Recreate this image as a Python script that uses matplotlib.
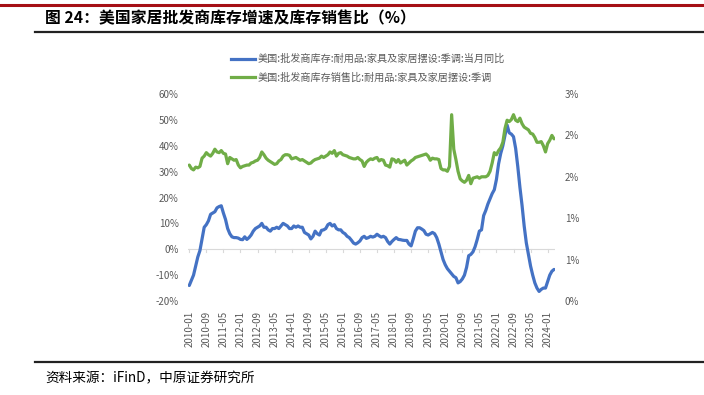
import matplotlib
matplotlib.use("Agg")
import matplotlib.pyplot as plt
import matplotlib.lines as mlines
import pandas as pd
import numpy as np
from matplotlib.ticker import FuncFormatter, MultipleLocator

plt.rcParams['font.family'] = ['Noto Sans CJK SC', 'DejaVu Sans']

# monthly, 2010-01 .. 2024-04
months = pd.date_range('2010-01-01', periods=172, freq='MS')

# 美国:批发商库存:耐用品:家具及家居摆设:季调:当月同比 (%)
inv_yoy = [
    -14, -12, -10, -6.5, -3, -0.5, 4, 8.5, 9.5, 11, 13.5, 14,          # 2010
    14.5, 16, 16.5, 16.8, 14, 11.5, 8, 6, 4.8, 4.5, 4.5, 4.3,          # 2011
    3.8, 3.7, 4.8, 3.8, 4.5, 5.5, 7, 8, 8.5, 9, 10, 8.5,               # 2012
    8.5, 7.5, 7, 8, 8, 8.5, 8, 9, 10, 9.5, 9, 8,                       # 2013
    8, 9, 8.5, 9, 8.5, 8.5, 6.5, 6, 5.5, 4, 5, 7,                      # 2014
    6, 5.5, 7.3, 7.5, 8, 9.5, 10, 9, 9.5, 8, 7.5, 7.5,                 # 2015
    6.5, 6, 5, 4.5, 3.5, 2.4, 2, 2.5, 3.2, 4.5, 5, 4.2,                # 2016
    4.5, 5, 4.7, 5, 5.8, 5.2, 4.7, 5, 4.5, 3, 2, 3,                    # 2017
    3.8, 4.5, 3.8, 3.7, 3.5, 3.4, 3.4, 2, 1.3, 4, 7, 8.3,              # 2018
    8.3, 7.8, 7.2, 5.8, 5.5, 6, 6.5, 6, 4.5, 2, -1, -4,                # 2019
    -6, -7.5, -8.5, -9.5, -10.5, -11, -13, -12.5, -11.5, -10, -7, -2.5,  # 2020
    -2, -1, 1, 3.8, 7, 7.5, 13, 15, 17.5, 19.5, 21.5, 23,              # 2021
    27, 33, 37, 40, 44, 48, 45, 44.5, 43.5, 39, 32, 24,                # 2022
    17, 9, 2.5, -2, -6.5, -10, -13, -15, -16.3, -15.5, -15, -15,       # 2023
    -12.5, -10, -8.5, -7.8,                                            # 2024
]

# 美国:批发商库存销售比:耐用品:家具及家居摆设:季调 (right axis)
inv_sales = [
    1.97, 1.92, 1.90, 1.94, 1.93, 1.95, 2.07, 2.10, 2.15, 2.12, 2.10, 2.14,   # 2010
    2.20, 2.16, 2.15, 2.18, 2.14, 2.13, 1.99, 2.08, 2.06, 2.04, 2.05, 1.97,   # 2011
    1.93, 1.95, 1.96, 1.97, 1.97, 2.00, 2.01, 2.03, 2.04, 2.08, 2.16, 2.12,   # 2012
    2.07, 2.04, 2.02, 2.00, 1.98, 1.99, 2.03, 2.05, 2.10, 2.12, 2.12, 2.11,   # 2013
    2.06, 2.07, 2.08, 2.06, 2.04, 2.05, 2.03, 2.01, 1.99, 2.00, 2.03, 2.05,   # 2014
    2.06, 2.07, 2.10, 2.08, 2.10, 2.12, 2.16, 2.14, 2.18, 2.10, 2.14, 2.15,   # 2015
    2.12, 2.11, 2.10, 2.08, 2.07, 2.06, 2.06, 2.08, 2.05, 2.03, 1.95, 2.01,   # 2016
    2.04, 2.06, 2.05, 2.07, 2.08, 2.03, 2.05, 2.04, 1.97, 1.96, 1.94, 2.06,   # 2017
    2.05, 2.01, 2.05, 2.00, 2.02, 2.04, 1.97, 2.00, 2.03, 2.05, 2.08, 2.09,   # 2018
    2.10, 2.11, 2.12, 2.13, 2.10, 2.04, 2.07, 2.06, 2.06, 2.05, 1.92, 1.90,   # 2019
    1.90, 1.88, 1.95, 2.70, 2.20, 2.05, 1.88, 1.77, 1.74, 1.72, 1.75, 1.82,   # 2020
    1.70, 1.78, 1.79, 1.80, 1.78, 1.80, 1.80, 1.80, 1.82, 1.88, 2.00, 2.15,   # 2021
    2.12, 2.18, 2.22, 2.30, 2.50, 2.62, 2.60, 2.63, 2.70, 2.62, 2.60, 2.65,   # 2022
    2.57, 2.52, 2.50, 2.48, 2.43, 2.42, 2.37, 2.30, 2.30, 2.31, 2.25, 2.16,   # 2023
    2.28, 2.33, 2.40, 2.35,                                                   # 2024
]

label_yoy = '美国:批发商库存:耐用品:家具及家居摆设:季调:当月同比'
label_ratio = '美国:批发商库存销售比:耐用品:家具及家居摆设:季调'
title = '图 24：美国家居批发商库存增速及库存销售比（%）'
source = '资料来源：iFinD，中原证券研究所'

tick_idx = list(range(0, len(months), 8))
tick_labels = [months[i].strftime('%Y-%m') for i in tick_idx]

W, H = 704, 395
fig = plt.figure(figsize=(W / 100, H / 100), dpi=100)

blue = '#4472C4'
green = '#70AD47'
grey = '#595959'

# axes placement in pixel coords
ax_l, ax_r, ax_t, ax_b = 188.2, 555.1, 94, 301
ax = fig.add_axes([ax_l / W, 1 - ax_b / H, (ax_r - ax_l) / W, (ax_b - ax_t) / H])
ax2 = ax.twinx()

x = np.arange(len(months))
ax.plot(x, inv_yoy, color=blue, lw=2.3, solid_capstyle='round', zorder=3)
ax2.plot(x, inv_sales, color=green, lw=2.3, solid_capstyle='round', zorder=3)

ax.set_xlim(-0.5, len(months) - 0.5)
ax.set_ylim(-20, 60)
ax.yaxis.set_major_locator(MultipleLocator(10))
ax.yaxis.set_major_formatter(FuncFormatter(lambda v, p: f'{v:.0f}%'))
ax2.set_ylim(0, 3)
ax2.set_yticks(np.arange(0, 3.01, 0.6))
ax2.yaxis.set_major_formatter(FuncFormatter(lambda v, p: f'{v:.0f}%'))

for a in (ax, ax2):
    for s in a.spines.values():
        s.set_visible(False)
    a.tick_params(axis='y', length=0, labelsize=7, labelcolor=grey)

ax.tick_params(axis='y', pad=7)
ax2.tick_params(axis='y', pad=7)

# zero line (category axis) with small tick marks
ax.axhline(0, color='#D9D9D9', lw=0.8, zorder=1)
for i in tick_idx:
    ax.plot([i, i], [0, -1.2], color='#D9D9D9', lw=0.8, zorder=1)

ax.set_xticks(tick_idx)
ax.set_xticklabels(tick_labels, rotation=90, fontsize=7, color=grey)
ax.tick_params(axis='x', length=0, pad=7)

# legend
h1 = mlines.Line2D([], [], color=blue, lw=2.3)
h2 = mlines.Line2D([], [], color=green, lw=2.3)
leg = fig.legend([h1, h2], [label_yoy, label_ratio], loc='upper left',
                 bbox_to_anchor=(231 / W, 1 - 54 / H), frameon=False,
                 fontsize=7.3, handlelength=2.4, handletextpad=0.2,
                 labelspacing=0.85, borderaxespad=0, borderpad=0)
for t in leg.get_texts():
    t.set_color(grey)

# decorations
fig.add_artist(mlines.Line2D([0, 1], [1 - 4.5 / H, 1 - 4.5 / H], color='#A50F15', lw=2.2))
fig.add_artist(mlines.Line2D([35 / W, 703 / W], [1 - 32 / H, 1 - 32 / H], color='#222222', lw=1.6))
fig.add_artist(mlines.Line2D([35 / W, 704 / W], [1 - 362 / H, 1 - 362 / H], color='#222222', lw=1.6))

fig.text(45 / W, 1 - 18 / H, title, fontsize=11.4, fontweight='bold', va='center', ha='left', color='black')
fig.text(45 / W, 1 - 378 / H, source, fontsize=9.8, va='center', ha='left', color='black')

fig.savefig('out.png', dpi=100)
